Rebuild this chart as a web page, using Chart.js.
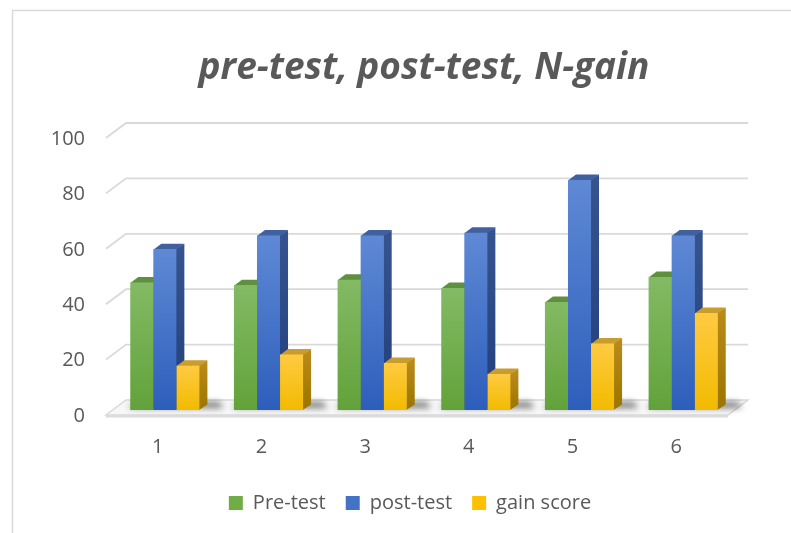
<!DOCTYPE html>
<html><head><meta charset="utf-8">
<script src="https://cdn.jsdelivr.net/npm/chart.js@4.4.1/dist/chart.umd.min.js"></script>
<style>html,body{margin:0;padding:0;background:#fff}</style>
</head><body>
<canvas id="c" width="791" height="533"></canvas>
<script>
const categories = ['1', '2', '3', '4', '5', '6'];
const preTest = [46, 45, 47, 44, 39, 48];
const postTest = [58, 63, 63, 64, 83, 63];
const gainScore = [16, 20, 17, 13, 24, 35];
const yTicks = [0, 20, 40, 60, 80, 100];
const seriesNames = ['Pre-test', 'post-test', 'gain score'];
const titleText = 'pre-test, post-test, N-gain';

const palette = [
  {frontTop:'#83ba64', frontBot:'#62a23a', sideTop:'#55883a', sideBot:'#44732c', topFace:'#5e9040', legend:'#70ad47'},
  {frontTop:'#5f89d5', frontBot:'#2d5ebb', sideTop:'#35548f', sideBot:'#213e7b', topFace:'#40609f', legend:'#4472c4'},
  {frontTop:'#ffca42', frontBot:'#f2bb00', sideTop:'#b88a18', sideBot:'#9c7400', topFace:'#c99c2e', legend:'#ffc000'}
];
const TXT = '#595959';
const GRID = '#d9d9d9';
const BAR_DX = 8, BAR_DY = 5.5;       // bar depth
const FRONT_DX = -7, FRONT_DY = 5;    // front plane offset from bar plane
const BACK_DX = 13, BACK_DY = -10;    // back wall offset from bar plane

function frontGradient(ctx, i) {
  const chart = ctx.chart;
  const p = palette[i];
  const ys = chart.scales && chart.scales.y;
  if (!chart.chartArea || !ys || ctx.parsed === undefined) return p.legend;
  const top = ys.getPixelForValue(ctx.parsed.y);
  const bot = ys.getPixelForValue(0);
  const g = chart.ctx.createLinearGradient(0, top, 0, bot);
  g.addColorStop(0, p.frontTop);
  g.addColorStop(1, p.frontBot);
  return g;
}

const threeD = {
  id: 'threeD',
  beforeDraw(chart) {
    const c = chart.ctx;
    c.save();
    c.strokeStyle = GRID;
    c.lineWidth = 1.5;
    c.strokeRect(12.5, 10.5, 900, 700);
    c.restore();
  },
  beforeDatasetsDraw(chart) {
    const c = chart.ctx;
    const a = chart.chartArea;
    const ys = chart.scales.y;
    const base = ys.getPixelForValue(0);
    c.save();
    // back wall gridlines + slanted side lines
    c.strokeStyle = GRID;
    c.lineWidth = 1.8;
    yTicks.forEach(v => {
      if (v === 0) return;
      const yp = ys.getPixelForValue(v);
      c.beginPath();
      c.moveTo(a.left + FRONT_DX, yp + FRONT_DY);
      c.lineTo(a.left + BACK_DX, yp + BACK_DY);
      c.lineTo(a.right + BACK_DX, yp + BACK_DY);
      c.stroke();
    });
    // floor
    const fl = a.left + FRONT_DX, fr = a.right + FRONT_DX, fy = base + FRONT_DY;
    const bl = a.left + BACK_DX, br = a.right + BACK_DX, by = base + BACK_DY;
    c.fillStyle = '#f7f7f7';
    c.beginPath();
    c.moveTo(fl, fy); c.lineTo(fr, fy); c.lineTo(br, by); c.lineTo(bl, by); c.closePath();
    c.fill();
    c.lineWidth = 1.5;
    c.strokeStyle = GRID;
    c.stroke();
    c.fillStyle = '#dcdcdc';
    c.fillRect(fl, fy, fr - fl, 2.5);
    // shadows
    const metas = [0,1,2].map(i => chart.getDatasetMeta(i));
    c.save();
    c.filter = 'blur(3px)';
    c.fillStyle = 'rgba(0,0,0,0.5)';
    for (let k = 0; k < categories.length; k++) {
      const gl = metas[0].data[k].x - metas[0].data[k].width / 2;
      const gr = metas[2].data[k].x + metas[2].data[k].width / 2;
      c.beginPath();
      c.moveTo(gl - 2, base - 2);
      c.lineTo(gr + BAR_DX + 16, base - 2);
      c.lineTo(gr + BAR_DX + 12, base - 8);
      c.lineTo(gl + 6, base - 8);
      c.closePath();
      c.fill();
    }
    c.restore();
    // side & top faces, left to right
    for (let k = 0; k < categories.length; k++) {
      for (let i = 0; i < 3; i++) {
        const el = metas[i].data[k];
        const p = palette[i];
        const l = el.x - el.width / 2, r = el.x + el.width / 2;
        const t = el.y, b = el.base;
        const sg = c.createLinearGradient(0, t, 0, b);
        sg.addColorStop(0, p.sideTop); sg.addColorStop(1, p.sideBot);
        c.fillStyle = sg;
        c.beginPath();
        c.moveTo(r - 0.5, t); c.lineTo(r + BAR_DX, t - BAR_DY); c.lineTo(r + BAR_DX, b - BAR_DY); c.lineTo(r - 0.5, b); c.closePath();
        c.fill();
        c.fillStyle = p.topFace;
        c.beginPath();
        c.moveTo(l, t + 0.5); c.lineTo(l + BAR_DX, t - BAR_DY); c.lineTo(r + BAR_DX, t - BAR_DY); c.lineTo(r, t + 0.5); c.closePath();
        c.fill();
      }
    }
    c.restore();
  }
};

const datasets = [preTest, postTest, gainScore].map((vals, i) => ({
  label: seriesNames[i],
  data: vals,
  backgroundColor: (ctx) => frontGradient(ctx, i),
  borderWidth: 0,
  categoryPercentage: 0.667,
  barPercentage: 1.0
}));

const font = {family: 'Open Sans', size: 20};

new Chart(document.getElementById('c'), {
  type: 'bar',
  data: {labels: categories, datasets},
  plugins: [threeD],
  options: {
    responsive: false,
    animation: false,
    devicePixelRatio: 1,
    layout: {padding: {left: 29, right: 0, top: 0, bottom: 10}},
    plugins: {
      title: {
        display: true, text: titleText, color: TXT, fullSize: false,
        font: {family: 'Open Sans', size: 37, weight: 'bold', style: 'italic'},
        padding: {top: 45.8, bottom: 42.8}
      },
      legend: {
        position: 'bottom',
        labels: {
          font, color: TXT, boxWidth: 14, boxHeight: 14, padding: 20,
          generateLabels: () => seriesNames.map((n, i) => ({
            text: n, fillStyle: palette[i].legend, strokeStyle: palette[i].legend,
            lineWidth: 0, hidden: false, datasetIndex: i, fontColor: TXT
          }))
        }
      },
      tooltip: {enabled: false}
    },
    scales: {
      x: {
        grid: {display: false, drawTicks: false},
        border: {display: false},
        ticks: {font, color: TXT, padding: 25, labelOffset: -7},
        afterFit(s) { s.height = 63; }
      },
      y: {
        min: 0, max: 100,
        grid: {display: false, drawTicks: false},
        border: {display: false},
        ticks: {font, color: TXT, padding: 28, labelOffset: 6},
        afterBuildTicks(s) { s.ticks = yTicks.map(v => ({value: v})); },
        afterFit(s) { s.width = 84; }
      },
      y2: {
        position: 'right', display: true,
        grid: {display: false, drawTicks: false},
        border: {display: false},
        ticks: {display: false},
        afterFit(s) { s.width = 56; }
      }
    }
  }
});
</script>
</body></html>
